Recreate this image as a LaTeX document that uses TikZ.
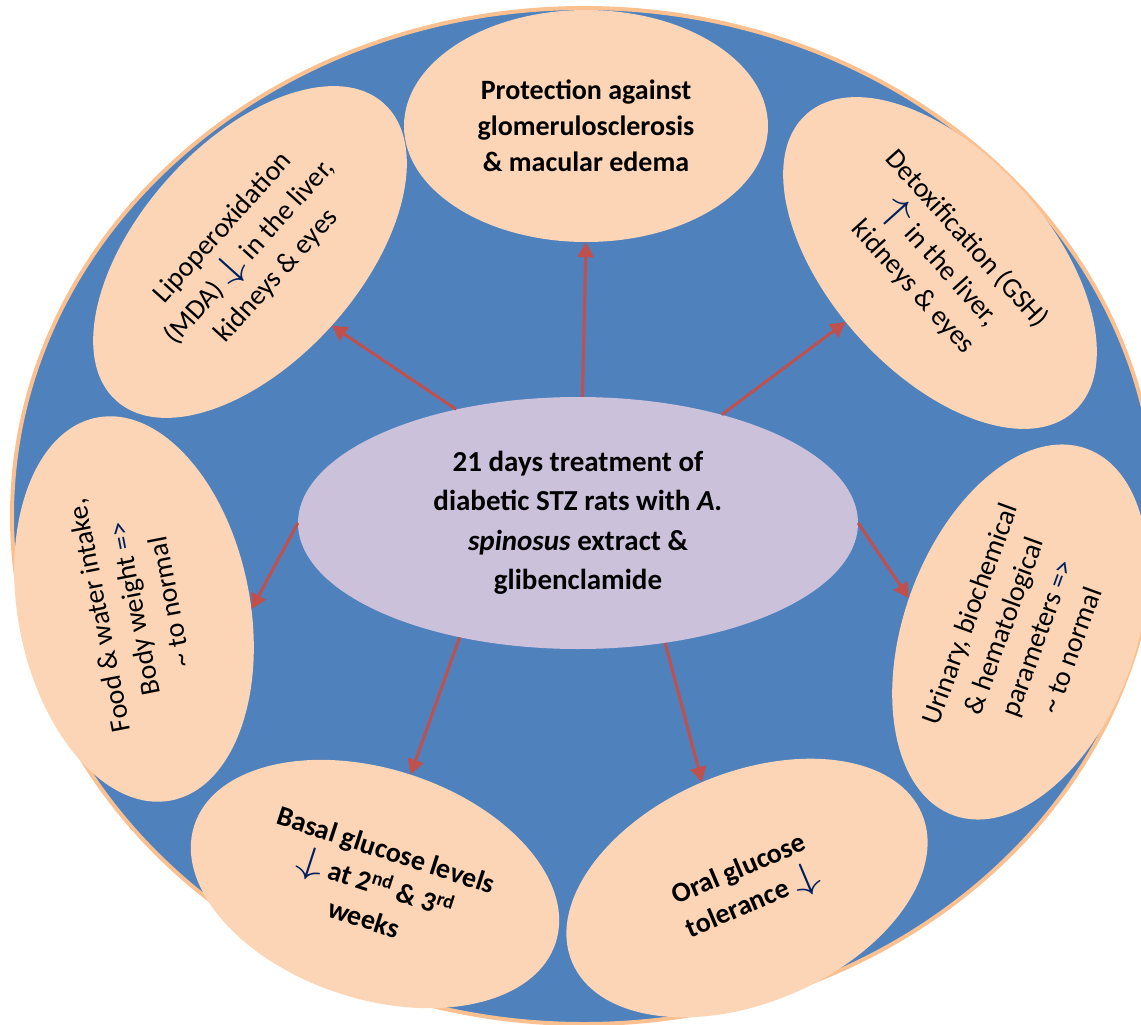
\documentclass[tikz,border=0pt]{standalone}
\usepackage{fontspec}
\setmainfont{Carlito}
\usepackage{xcolor}
\usepackage{graphicx}
\usetikzlibrary{arrows.meta}
\usetikzlibrary{shapes.geometric}
\definecolor{bgblue}{HTML}{4F81BD}
\definecolor{rimorange}{HTML}{FAC090}
\definecolor{peach}{HTML}{FBD5B5}
\definecolor{lilac}{HTML}{CCC1DA}
\definecolor{arrred}{HTML}{C0504D}
\definecolor{navy}{HTML}{002060}
\newcommand{\arrdn}{\textcolor{navy}{\scalebox{2.2}[1.5]{$\downarrow$}}}
\newcommand{\arrup}{\textcolor{navy}{\scalebox{2.2}[1.5]{$\uparrow$}}}
\newcommand{\gonorm}{\textcolor{navy}{=>}}
\tikzset{
  eff_n/.style = {ellipse, fill=peach, inner sep=0pt, align=center,
    font=\fontsize{28}{36}\selectfont,
    minimum width=395pt, minimum height=228pt},% effect, regular text
  eff_b/.style = {eff_n, font=\fontsize{28}{36}\selectfont\bfseries},% effect, bold text
  trt_n/.style = {ellipse, fill=lilac, inner sep=0pt, align=center,
    font=\fontsize{29}{39.5}\selectfont\bfseries,
    minimum width=560pt, minimum height=252pt},% treatment, centre
  arr_r/.style = {draw=arrred, line width=3pt,
    -{Triangle[width=16pt,length=15pt]}}% red arrow
}

\begin{document}
\begin{tikzpicture}[x=1pt,y=-1pt]
\useasboundingbox (0,0) rectangle (1141,1025);
% outer ring
\draw [rimorange, line width=4pt, fill=bgblue] (584,516) ellipse [x radius=572pt, y radius=508pt];

% effects
\node [eff_b, minimum width=364pt, minimum height=232pt] (prot) at (586,126)
  {Protection against\\glomerulosclerosis\\\& macular edema};
\node [eff_n, rotate=48, minimum width=400pt, minimum height=220pt] (lip) at (250,252)
  {Lipoperoxidation\\(MDA) \arrdn{} in the liver,\\kidneys \& eyes};
\node [eff_n, rotate=-48, minimum width=400pt, minimum height=220pt] (detox) at (940,263)
  {Detoxification (GSH)\\\arrup{} in the liver,\\kidneys \& eyes};
\node [eff_n, rotate=101, minimum width=390pt, minimum height=232pt] (food) at (134,609)
  {Food \& water intake,\\Body weight \gonorm\\\textasciitilde{} to normal};
\node [eff_n, rotate=70, minimum width=390pt, minimum height=232pt] (urin) at (1020,632)
  {Urinary, biochemical\\\& hematological\\parameters \gonorm\\\textasciitilde{} to normal};
\node [eff_b, rotate=-18, minimum width=380pt, minimum height=230pt] (basal) at (375,884)
  {Basal glucose levels\\\arrdn{} at 2\textsuperscript{nd} \& 3\textsuperscript{rd}\\weeks};
\node [eff_b, rotate=23, minimum width=380pt, minimum height=230pt] (oral) at (747,888)
  {Oral glucose\\tolerance \arrdn};

% treatment
\node [trt_n] (c) at (578,523)
  {21 days treatment of\\diabetic STZ rats with \textit{A.}\\\textit{spinosus} extract \&\\glibenclamide};

% arrows
\draw [arr_r] (c.88) -- (prot.south);
\draw [arr_r] (c.137) -- (lip.-90);
\draw [arr_r] (c.37) -- (detox.260);
\draw [arr_r] (c.180) -- (food.259);
\draw [arr_r] (c.0) -- (urin.93);
\draw [arr_r] (c.224) -- (basal.90);
\draw [arr_r] (c.306) -- (oral.90);
\end{tikzpicture}
\end{document}
